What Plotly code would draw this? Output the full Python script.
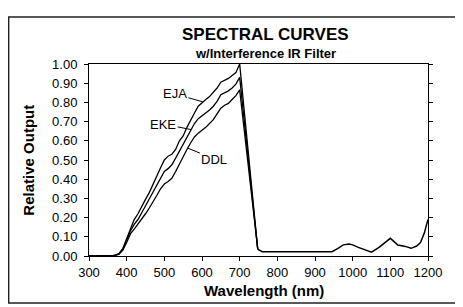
import numpy as np
import plotly.graph_objects as go

# Visible part (nm) for the three sensor curves
wl_vis = [300, 350, 360, 370, 380, 390, 400, 410, 420, 430, 440, 450, 460, 470,
          480, 490, 500, 510, 520, 530, 540, 550, 560, 570, 580, 590, 600, 610,
          620, 630, 640, 650, 660, 670, 680, 690, 700, 748]
eja = [0.0, 0.0, 0.0, 0.005, 0.013, 0.04, 0.09, 0.15, 0.19, 0.22, 0.26, 0.295,
       0.33, 0.375, 0.415, 0.46, 0.50, 0.52, 0.53, 0.555, 0.60, 0.625, 0.67,
       0.71, 0.745, 0.78, 0.80, 0.815, 0.83, 0.85, 0.875, 0.905, 0.915, 0.925,
       0.94, 0.955, 1.0, 0.035]
eke = [0.0, 0.0, 0.0, 0.004, 0.012, 0.035, 0.08, 0.13, 0.165, 0.19, 0.225, 0.26,
       0.295, 0.33, 0.37, 0.405, 0.44, 0.455, 0.475, 0.51, 0.545, 0.58, 0.62,
       0.655, 0.69, 0.715, 0.73, 0.745, 0.76, 0.78, 0.805, 0.84, 0.85, 0.86,
       0.875, 0.895, 0.93, 0.035]
ddl = [0.0, 0.0, 0.0, 0.003, 0.01, 0.03, 0.07, 0.115, 0.14, 0.165, 0.19, 0.22,
       0.25, 0.28, 0.315, 0.35, 0.375, 0.388, 0.405, 0.44, 0.48, 0.52, 0.555,
       0.59, 0.62, 0.64, 0.655, 0.67, 0.69, 0.71, 0.74, 0.77, 0.785, 0.795,
       0.815, 0.835, 0.865, 0.035]

# Shared infrared tail (nm)
wl_ir = [748, 760, 800, 900, 945, 960, 975, 990, 1000, 1015, 1030, 1050, 1070,
         1090, 1100, 1110, 1120, 1140, 1155, 1170, 1180, 1190, 1200]
ir_tail = [0.035, 0.022, 0.022, 0.022, 0.022, 0.038, 0.058, 0.062, 0.058, 0.045,
           0.036, 0.02, 0.045, 0.075, 0.092, 0.075, 0.057, 0.05, 0.04, 0.052,
           0.07, 0.118, 0.19]

series_names = ["EJA", "EKE", "DDL"]
series_vals = [eja, eke, ddl]
label_pos = [(528, 0.844), (497, 0.6875), (633, 0.505)]   # label text centres
leader_at = [602, 571, 562]                               # wavelength where leader touches curve

FONT = "Liberation Sans, Arial, Helvetica, sans-serif"

fig = go.Figure()
for name, vals in zip(series_names, series_vals):
    fig.add_trace(go.Scatter(x=wl_vis, y=vals, mode="lines", name=name,
                             line=dict(color="black", width=1.3), showlegend=False))
fig.add_trace(go.Scatter(x=wl_ir, y=ir_tail, mode="lines", name="IR",
                         line=dict(color="black", width=1.5), showlegend=False))

annotations = []
for name, vals, (lx, ly), lw in zip(series_names, series_vals, label_pos, leader_at):
    cy = float(np.interp(lw, wl_vis, vals))
    annotations.append(dict(x=lw, y=cy, xref="x", yref="y", ax=lx, ay=ly,
                            axref="x", ayref="y", text=name, showarrow=True,
                            arrowhead=0, arrowwidth=1, arrowcolor="black",
                            font=dict(family=FONT, size=13, color="black")))

annotations += [
    dict(x=0.5206, y=1.156, xref="paper", yref="paper", text="<b>SPECTRAL CURVES</b>",
         showarrow=False, xanchor="center", yanchor="middle",
         font=dict(family=FONT, size=17, color="black")),
    dict(x=0.5206, y=1.057, xref="paper", yref="paper", text="<b>w/Interference IR Filter</b>",
         showarrow=False, xanchor="center", yanchor="middle",
         font=dict(family=FONT, size=13, color="black")),
    dict(x=0.515, y=-0.178, xref="paper", yref="paper", text="<b>Wavelength (nm)</b>",
         showarrow=False, xanchor="center", yanchor="middle",
         font=dict(family=FONT, size=15, color="black")),
    dict(x=-0.181, y=0.5, xref="paper", yref="paper", text="<b>Relative Output</b>",
         showarrow=False, xanchor="center", yanchor="middle", textangle=-90,
         font=dict(family=FONT, size=15, color="black")),
]

# page body has an 8px margin, so the figure is sized/margined to compensate
fig.update_layout(
    width=455, height=299,
    margin=dict(l=81, r=35, t=56, b=51),
    paper_bgcolor="white", plot_bgcolor="white",
    font=dict(family=FONT, size=13, color="black"),
    annotations=annotations,
    shapes=[dict(type="rect", xref="paper", yref="paper",
                 x0=-0.237, x1=1.125, y0=-0.245, y1=1.245,
                 line=dict(color="#222", width=1.5))],
)
fig.update_xaxes(range=[300, 1200], tickvals=list(range(300, 1201, 100)),
                 showgrid=False, zeroline=False, showline=True, linecolor="black",
                 linewidth=1, mirror=True, ticks="outside", ticklen=4,
                 tickcolor="black", tickfont=dict(family=FONT, size=13, color="black"))
fig.update_yaxes(range=[0, 1], tickvals=[i / 10 for i in range(11)], tickformat=".2f",
                 showgrid=False, zeroline=False, showline=True, linecolor="black",
                 linewidth=1, mirror="ticks", ticks="outside", ticklen=4,
                 tickcolor="black", ticklabelstandoff=4,
                 tickfont=dict(family=FONT, size=13, color="black"))

fig.write_html("out.html")
